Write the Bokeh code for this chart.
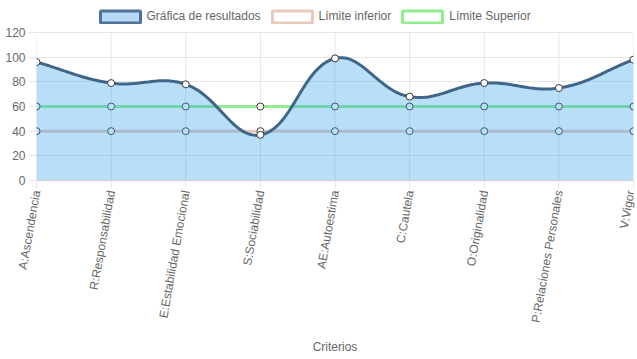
import numpy as np
from bokeh.plotting import figure
from bokeh.models import FixedTicker, Legend, LegendItem
from bokeh.embed import file_html
from bokeh.resources import INLINE

# ---- data ----
categories = ["A:Ascendencia", "R:Responsabilidad", "E:Estabilidad Emocional",
              "S:Sociabilidad", "AE:Autoestima", "C:Cautela", "O:Originalidad",
              "P:Relaciones Personales", "V:Vigor"]
resultados = [96, 79, 78, 37, 99, 68, 79, 75, 98]
limite_inferior = [40, 40, 40, 40, 40, 40, 40, 40, 40]
limite_superior = [60, 60, 60, 60, 60, 60, 60, 60, 60]
y_ticks = [0, 20, 40, 60, 80, 100, 120]
series_names = ["Gráfica de resultados", "Límite inferior", "Límite Superior"]

FONT = "Liberation Sans"
TXT = "#666666"
GRID = "#e6e6e6"

W, H = 637, 359
ML, MR, MB = 36, 4, 179
LEGEND_SPACE = 32          # px reserved above the value area for the legend
FRAME_W = W - ML - MR
FRAME_H_TOTAL = H - MB
VALUE_H = FRAME_H_TOTAL - LEGEND_SPACE
y_max = y_ticks[-1]
y_top = y_max * FRAME_H_TOTAL / VALUE_H

xs = list(range(len(categories)))

p = figure(width=W, height=H, output_backend="svg", toolbar_location=None,
           x_range=(xs[0], xs[-1]), y_range=(0, y_top),
           min_border_left=ML, min_border_right=MR, min_border_top=0,
           min_border_bottom=MB)
p.outline_line_color = None
p.background_fill_color = "white"

# axes
p.xaxis.ticker = FixedTicker(ticks=xs)
p.xaxis.major_label_overrides = {i: c for i, c in enumerate(categories)}
p.xaxis.major_label_orientation = np.deg2rad(80)
p.yaxis.ticker = FixedTicker(ticks=y_ticks)
for ax in (p.xaxis[0], p.yaxis[0]):
    ax.major_label_text_font = FONT
    ax.major_label_text_font_size = "12px"
    ax.major_label_text_color = TXT
    ax.major_tick_in = 0
    ax.major_tick_line_color = GRID
    ax.minor_tick_line_color = None
p.yaxis.major_tick_out = 8
p.yaxis.major_label_standoff = 3
p.yaxis.axis_line_color = None
p.xaxis.major_tick_out = 8
p.xaxis.major_label_standoff = 2
p.xaxis.axis_line_color = "#cfcfcf"
p.xaxis.axis_label = "Criterios"
p.xaxis.axis_label_text_font = FONT
p.xaxis.axis_label_text_font_size = "12px"
p.xaxis.axis_label_text_font_style = "normal"
p.xaxis.axis_label_text_color = TXT
p.xaxis.axis_label_standoff = 12
p.xgrid.visible = False
p.ygrid.ticker = FixedTicker(ticks=y_ticks)
p.ygrid.grid_line_color = GRID

# vertical grid lines limited to the value area
p.segment(x0=xs, y0=[y_ticks[0]] * len(xs), x1=xs, y1=[y_max] * len(xs),
          line_color=GRID, line_width=1)

# ---- Chart.js style spline (tension 0.4), computed in pixel space ----
sx = FRAME_W / (len(categories) - 1)
sy = VALUE_H / float(y_max)
px = np.array(xs, dtype=float) * sx
py = np.array(resultados, dtype=float) * sy
n = len(px)
prev_cp, next_cp = [], []
t = 0.4
for i in range(n):
    p0 = (px[max(i - 1, 0)], py[max(i - 1, 0)])
    p1 = (px[i], py[i])
    p2 = (px[min(i + 1, n - 1)], py[min(i + 1, n - 1)])
    d01 = np.hypot(p1[0] - p0[0], p1[1] - p0[1])
    d12 = np.hypot(p2[0] - p1[0], p2[1] - p1[1])
    tot = d01 + d12
    s01 = d01 / tot if tot else 0
    s12 = d12 / tot if tot else 0
    fa, fb = t * s01, t * s12
    prev_cp.append((p1[0] - fa * (p2[0] - p0[0]), p1[1] - fa * (p2[1] - p0[1])))
    next_cp.append((p1[0] + fb * (p2[0] - p0[0]), p1[1] + fb * (p2[1] - p0[1])))

cx, cy = [], []
tt = np.linspace(0, 1, 40)
for i in range(n - 1):
    P0 = np.array([px[i], py[i]])
    C1 = np.array(next_cp[i])
    C2 = np.array(prev_cp[i + 1])
    P3 = np.array([px[i + 1], py[i + 1]])
    seg = ((1 - tt) ** 3)[:, None] * P0 + (3 * (1 - tt) ** 2 * tt)[:, None] * C1 + \
          (3 * (1 - tt) * tt ** 2)[:, None] * C2 + (tt ** 3)[:, None] * P3
    if i > 0:
        seg = seg[1:]
    cx.extend(seg[:, 0] / sx)
    cy.extend(seg[:, 1] / sy)

LOW = "#e9c9bb"
UP = "#90ee90"
BLUE_FILL = "#36a2eb"
BLUE_LINE = "#3f6688"
PT_LINE = "#3a3a3a"

# limit lines (drawn underneath the translucent area)
p.line(xs, limite_inferior, line_color=LOW, line_width=3)
p.scatter(xs, limite_inferior, size=7, fill_color="white", line_color=PT_LINE, line_width=1)
p.line(xs, limite_superior, line_color=UP, line_width=3)
p.scatter(xs, limite_superior, size=7, fill_color="white", line_color=PT_LINE, line_width=1)

# results area
p.patch(cx + [xs[-1], xs[0]], cy + [0, 0], fill_color=BLUE_FILL, fill_alpha=0.35, line_color=None)
p.line(cx, cy, line_color=BLUE_LINE, line_width=3, line_join="round")
p.scatter(xs, resultados, size=7, fill_color="white", line_color=PT_LINE, line_width=1)

# legend proxies (NaN data: nothing drawn in the plot, only legend swatches)
nan = [np.nan]
r1 = p.quad(left=nan, right=nan, top=nan, bottom=nan, fill_color="#b7d9f6", line_color="#4d7397", line_width=3)
r2 = p.quad(left=nan, right=nan, top=nan, bottom=nan, fill_color="white", line_color=LOW, line_width=3)
r3 = p.quad(left=nan, right=nan, top=nan, bottom=nan, fill_color="white", line_color=UP, line_width=3)
legend = Legend(items=[LegendItem(label=series_names[0], renderers=[r1]),
                       LegendItem(label=series_names[1], renderers=[r2]),
                       LegendItem(label=series_names[2], renderers=[r3])],
                orientation="horizontal", location=(58.5, FRAME_H_TOTAL - 23.5),
                glyph_width=50, glyph_height=15, label_height=12,
                label_standoff=2, spacing=6, padding=0, margin=0,
                label_text_font=FONT, label_text_font_size="12px",
                label_text_color=TXT, background_fill_alpha=0,
                border_line_alpha=0)
p.add_layout(legend, "center")

open("out.html", "w").write(file_html(p, INLINE))
